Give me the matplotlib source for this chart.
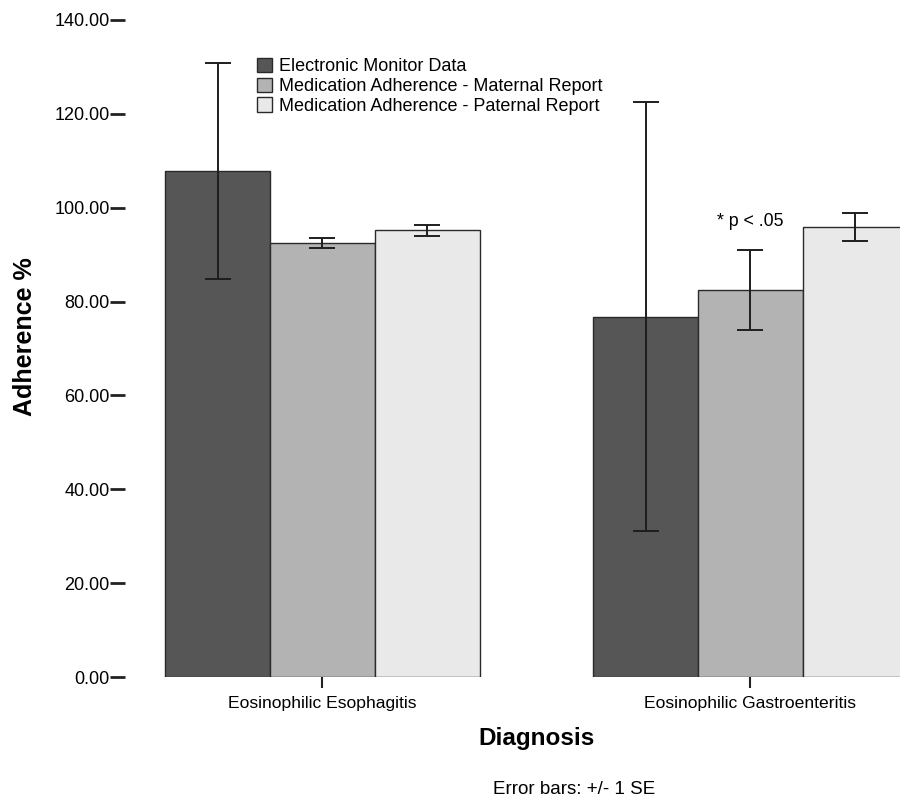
import matplotlib
matplotlib.use("Agg")
import matplotlib.pyplot as plt
import numpy as np

categories = ["Eosinophilic Esophagitis", "Eosinophilic Gastroenteritis"]
series_names = ["Electronic Monitor Data",
                "Medication Adherence - Maternal Report",
                "Medication Adherence - Paternal Report"]
means = [
    [107.8, 76.8],   # Electronic Monitor Data
    [92.5, 82.5],    # Maternal Report
    [95.2, 95.9],    # Paternal Report
]
se = [
    [23.0, 45.7],
    [1.1, 8.5],
    [1.2, 2.9],
]
yticks = [0, 20, 40, 60, 80, 100, 120, 140]
colors = ["#565656", "#b3b3b3", "#e9e9e9"]

plt.rcParams['font.family'] = ['Liberation Sans', 'DejaVu Sans']

fig = plt.figure(figsize=(9, 8), dpi=100)
W, H = 900, 800
left_px, right_px, top_px, bot_px = 125, 946, 20, 677
ax = fig.add_axes([left_px / W, 1 - bot_px / H, (right_px - left_px) / W, (bot_px - top_px) / H])

x = np.arange(len(categories))
w = 0.245
for i, (m, e, c) in enumerate(zip(means, se, colors)):
    pos = x + (i - 1) * w
    ax.bar(pos, m, width=w, color=c, edgecolor="#2a2a2a", linewidth=1.0,
           label=series_names[i], zorder=2)
    ax.errorbar(pos, m, yerr=e, fmt="none", ecolor="#1e1e1e", elinewidth=1.4,
                capsize=9.5, capthick=1.4, zorder=3)

ax.set_ylim(0, 140)
ax.set_xlim(-0.4614, 1.4568)
ax.set_yticks(yticks)
ax.set_yticklabels([f"{v:.2f}" for v in yticks], fontsize=13)
ax.set_xticks(x)
ax.set_xticklabels(categories, fontsize=12.6)
for s in ax.spines.values():
    s.set_visible(False)
ax.tick_params(axis="y", length=11, width=2, color="#222222", pad=0)
ax.tick_params(axis="x", length=8, width=1.5, color="#222222", pad=6)

ax.text(1, 97, "* p < .05", ha="center", va="center", fontsize=12.8)

ax_w, ax_h = right_px - left_px, bot_px - top_px
leg = ax.legend(loc="upper left",
                bbox_to_anchor=((257 - left_px) / ax_w, 1 - (58 - top_px) / ax_h),
                frameon=False, fontsize=13, handlelength=0.85, handleheight=0.85,
                handletextpad=0.35, labelspacing=0.12, borderaxespad=0, borderpad=0)

fig.text(25 / W, 1 - 337 / H, "Adherence %", rotation=90, ha="center", va="center",
         fontsize=18, fontweight="bold")
fig.text(537 / W, 1 - 738 / H, "Diagnosis", ha="center", va="center",
         fontsize=17.5, fontweight="bold")
fig.text(574 / W, 1 - 790 / H, "Error bars: +/- 1 SE", ha="center", va="center", fontsize=13.5)

fig.savefig("out.png", dpi=100)
